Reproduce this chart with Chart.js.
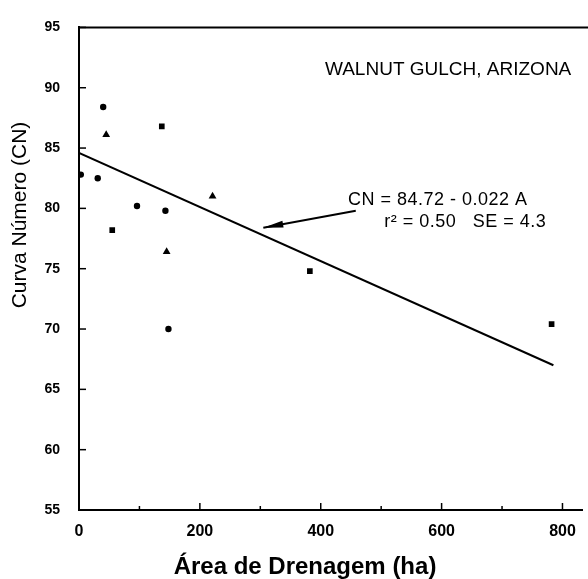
<!DOCTYPE html>
<html>
<head>
<meta charset="utf-8">
<script src="https://cdn.jsdelivr.net/npm/chart.js@4.4.1/dist/chart.umd.min.js"></script>
<style>
  html, body { margin: 0; padding: 0; background: #fff; }
  canvas { display: block; }
</style>
</head>
<body>
<canvas id="chartCN" width="588" height="579"></canvas>
<script>
// valores
const areaHa = [3, 31, 40, 45, 55, 96, 137, 143, 145, 148, 221, 382, 782];
const cnValores = [82.8, 82.5, 88.4, 86.1, 78.2, 80.2, 86.8, 79.8, 76.4, 70.0, 81.0, 74.8, 70.4];
const estilos = ['circle', 'circle', 'circle', 'triangle', 'rect', 'circle', 'rect', 'circle', 'triangle', 'circle', 'triangle', 'rect', 'rect'];

const rectaX = [0, 785];
const rectaY = [84.6, 67.0];

const flechaX = [458, 305];
const flechaY = [79.8, 78.4];

const xTicks = [0, 200, 400, 600, 800];
const xMinor = [100, 300, 500, 700];
const yTicks = [55, 60, 65, 70, 75, 80, 85, 90, 95];

const FONT = "'Liberation Sans', Arial, sans-serif";

const extrasPlugin = {
   id: 'extras',
   afterDraw: function (chart) {
      const { ctx, chartArea, scales } = chart;
      const x = scales.x, y = scales.y;
      ctx.save();
      ctx.strokeStyle = '#000';
      ctx.fillStyle = '#000';

      // borde superior
      ctx.lineWidth = 2;
      ctx.beginPath();
      ctx.moveTo(chartArea.left, chartArea.top);
      ctx.lineTo(chart.width, chartArea.top);
      ctx.stroke();

      // marcas hacia dentro
      ctx.lineWidth = 1.5;
      yTicks.forEach(v => {
         const py = y.getPixelForValue(v);
         ctx.beginPath();
         ctx.moveTo(chartArea.left, py);
         ctx.lineTo(chartArea.left + 7, py);
         ctx.stroke();
      });
      xTicks.forEach(v => {
         const px = x.getPixelForValue(v);
         ctx.beginPath();
         ctx.moveTo(px, chartArea.bottom);
         ctx.lineTo(px, chartArea.bottom - 7);
         ctx.stroke();
      });
      xMinor.forEach(v => {
         const px = x.getPixelForValue(v);
         ctx.beginPath();
         ctx.moveTo(px, chartArea.bottom);
         ctx.lineTo(px, chartArea.bottom - 4);
         ctx.stroke();
      });

      // punta de flecha
      const ax = x.getPixelForValue(flechaX[1]), ay = y.getPixelForValue(flechaY[1]);
      const bx = x.getPixelForValue(flechaX[0]), by = y.getPixelForValue(flechaY[0]);
      const ang = Math.atan2(ay - by, ax - bx);
      ctx.translate(ax, ay);
      ctx.rotate(ang);
      ctx.beginPath();
      ctx.moveTo(0, 0);
      ctx.lineTo(-20, -3.5);
      ctx.lineTo(-20, 3.5);
      ctx.closePath();
      ctx.fill();
      ctx.setTransform(1, 0, 0, 1, 0, 0);

      // textos
      ctx.textBaseline = 'middle';
      ctx.textAlign = 'left';
      ctx.font = '19px ' + FONT;
      ctx.fillText('WALNUT GULCH, ARIZONA', x.getPixelForValue(407), y.getPixelForValue(91.5));
      ctx.font = '18px ' + FONT;
      ctx.letterSpacing = '0.5px';
      ctx.fillText('CN = 84.72 - 0.022 A', x.getPixelForValue(445), y.getPixelForValue(80.7));
      ctx.fillText('r² = 0.50   SE = 4.3', x.getPixelForValue(505), y.getPixelForValue(78.9));
      ctx.letterSpacing = '0px';

      // titulos de ejes
      ctx.textAlign = 'center';
      ctx.font = 'bold 24px ' + FONT;
      ctx.fillText('Área de Drenagem (ha)', 305, 567);
      ctx.translate(20, 215);
      ctx.rotate(-Math.PI / 2);
      ctx.font = '21px ' + FONT;
      ctx.fillText('Curva Número (CN)', 0, 0);
      ctx.restore();
   }
};

const ctx = document.getElementById('chartCN').getContext('2d');
const chartCN = new Chart(ctx, {
   type: 'scatter',
   data: {
      datasets: [
         {
            label: 'CN',
            data: areaHa.map((a, i) => ({ x: a, y: cnValores[i] })),
            backgroundColor: '#000',
            borderColor: '#000',
            pointStyle: estilos,
            pointRadius: estilos.map(s => s === 'circle' ? 3.2 : s === 'rect' ? 4 : 4.5),
            borderWidth: 0
         },
         {
            label: 'Regresión',
            type: 'line',
            data: rectaX.map((a, i) => ({ x: a, y: rectaY[i] })),
            borderColor: '#000',
            borderWidth: 2,
            pointRadius: 0,
            fill: false
         },
         {
            label: 'Flecha',
            type: 'line',
            data: flechaX.map((a, i) => ({ x: a, y: flechaY[i] })),
            borderColor: '#000',
            borderWidth: 2,
            pointRadius: 0,
            fill: false
         }
      ]
   },
   options: {
      responsive: false,
      animation: false,
      layout: { padding: { top: 25, left: 0, right: 0, bottom: 0 } },
      scales: {
         x: {
            type: 'linear',
            min: 0,
            max: 833,
            afterBuildTicks: scale => { scale.ticks = xTicks.map(v => ({ value: v })); },
            afterFit: scale => { scale.height = 69; },
            grid: { display: true, drawOnChartArea: false, drawTicks: false },
            border: { display: true, color: '#000', width: 2 },
            ticks: {
               color: '#000',
               padding: 12,
               maxRotation: 0,
               font: { family: FONT, size: 16, weight: 'bold' }
            }
         },
         y: {
            type: 'linear',
            min: 55,
            max: 95,
            afterBuildTicks: scale => { scale.ticks = yTicks.map(v => ({ value: v })); },
            afterFit: scale => { scale.width = 79; },
            grid: { display: true, drawOnChartArea: false, drawTicks: false },
            border: { display: true, color: '#000', width: 2 },
            ticks: {
               color: '#000',
               padding: 19,
               font: { family: FONT, size: 14, weight: 'bold' }
            }
         }
      },
      plugins: {
         legend: { display: false },
         tooltip: { enabled: false }
      }
   },
   plugins: [extrasPlugin]
});
</script>
</body>
</html>
